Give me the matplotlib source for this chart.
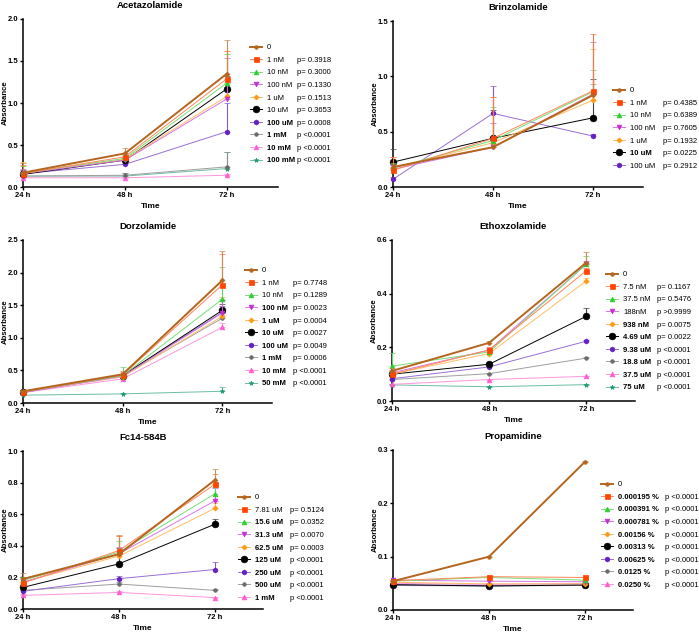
import numpy as np
import matplotlib.pyplot as plt
from matplotlib.colors import to_rgb

plt.rcParams['font.family'] = ['Liberation Sans', 'DejaVu Sans']

hours = [24, 48, 72]
hour_labels = ["24 h", "48 h", "72 h"]

# ---- Acetazolamide
aceta_labels = ["0", "1 nM", "10 nM", "100 nM", "1 uM", "10 uM", "100 uM", "1 mM", "10 mM", "100 mM"]
aceta_p = ["", "p= 0.3918", "p= 0.3000", "p= 0.1330", "p= 0.1513", "p= 0.3653", "p= 0.0008",
           "p <0.0001", "p <0.0001", "p <0.0001"]
aceta_vals = [[0.17, 0.40, 1.35], [0.16, 0.36, 1.29], [0.17, 0.34, 1.24], [0.16, 0.32, 1.05],
              [0.17, 0.33, 1.08], [0.15, 0.32, 1.17], [0.16, 0.27, 0.66], [0.13, 0.14, 0.24],
              [0.11, 0.11, 0.14], [0.13, 0.13, 0.22]]
aceta_err = [[0.12, 0.07, 0.40], [0.10, 0.05, 0.33], [0.08, 0.04, 0.34], [0.05, 0.03, 0.48],
             [0.13, 0.04, 0.54], [0.05, 0.03, 0.15], [0.03, 0.02, 0.34], [0.02, 0.03, 0.18],
             [0.01, 0.01, 0.02], [0.02, 0.04, 0.20]]

# ---- Brinzolamide
brinz_labels = ["0", "1 nM", "10 nM", "100 nM", "1 uM", "10 uM", "100 uM"]
brinz_p = ["", "p= 0.4385", "p= 0.6389", "p= 0.7605", "p= 0.1932", "p= 0.0225", "p= 0.2912"]
brinz_vals = [[0.18, 0.36, 0.83], [0.15, 0.44, 0.87], [0.17, 0.42, 0.86], [0.16, 0.36, 0.84],
              [0.17, 0.40, 0.785], [0.225, 0.44, 0.625], [0.07, 0.665, 0.46]]
brinz_err = [[0.03, 0.03, 0.10], [0.12, 0.37, 0.51], [0.05, 0.30, 0.20], [0.04, 0.22, 0.47],
             [0.10, 0.41, 0.46], [0.12, 0.26, 0.35], [0.02, 0.25, 0.02]]

# ---- Dorzolamide
dorzo_labels = ["0", "1 nM", "10 nM", "100 nM", "1 uM", "10 uM", "100 uM", "1 mM", "10 mM", "50 mM"]
dorzo_p = ["", "p= 0.7748", "p= 0.1289", "p= 0.0023", "p= 0.0004", "p= 0.0027", "p= 0.0049",
           "p= 0.0006", "p <0.0001", "p <0.0001"]
dorzo_vals = [[0.18, 0.44, 1.88], [0.17, 0.43, 1.81], [0.17, 0.42, 1.59], [0.16, 0.41, 1.38],
              [0.17, 0.40, 1.33], [0.17, 0.42, 1.42], [0.17, 0.42, 1.39], [0.16, 0.42, 1.30],
              [0.16, 0.37, 1.16], [0.12, 0.14, 0.18]]
dorzo_err = [[0.02, 0.05, 0.45], [0.02, 0.04, 0.47], [0.02, 0.13, 0.50], [0.02, 0.03, 0.20],
             [0.02, 0.03, 0.30], [0.02, 0.03, 0.10], [0.02, 0.03, 0.10], [0.02, 0.03, 0.08],
             [0.01, 0.02, 0.06], [0.01, 0.01, 0.07]]

# ---- Ethoxzolamide
ethox_labels = ["0", "7.5 nM", "37.5 nM", "188nM", "938 nM", "4.69 uM", "9.38 uM", "18.8 uM", "37.5 uM", "75 uM"]
ethox_p = ["", "p= 0.1167", "p= 0.5476", "p >0.9999", "p= 0.0075", "p= 0.0022", "p <0.0001",
           "p <0.0001", "p <0.0001", "p <0.0001"]
ethox_vals = [[0.112, 0.217, 0.516], [0.100, 0.190, 0.486], [0.130, 0.183, 0.510], [0.105, 0.190, 0.510],
              [0.100, 0.177, 0.448], [0.100, 0.137, 0.316], [0.083, 0.127, 0.223], [0.080, 0.102, 0.160],
              [0.062, 0.080, 0.092], [0.060, 0.053, 0.061]]
ethox_err = [[0.01, 0.005, 0.04], [0.01, 0.01, 0.01], [0.05, 0.01, 0.03], [0.01, 0.005, 0.01],
             [0.01, 0.01, 0.012], [0.01, 0.005, 0.03], [0.005, 0.005, 0.005], [0.003, 0.003, 0.003],
             [0.003, 0.003, 0.003], [0.002, 0.002, 0.002]]

# ---- Fc14-584B
fc14_labels = ["0", "7.81 uM", "15.6 uM", "31.3 uM", "62.5 uM", "125 uM", "250 uM", "500 uM", "1 mM"]
fc14_p = ["", "p= 0.5124", "p= 0.0352", "p= 0.0070", "p= 0.0003", "p <0.0001", "p <0.0001",
          "p <0.0001", "p <0.0001"]
fc14_vals = [[0.19, 0.347, 0.817], [0.164, 0.37, 0.79], [0.18, 0.36, 0.73], [0.17, 0.35, 0.685],
             [0.17, 0.335, 0.638], [0.137, 0.286, 0.537], [0.112, 0.192, 0.25], [0.118, 0.158, 0.118],
             [0.086, 0.105, 0.072]]
fc14_err = [[0.04, 0.12, 0.07], [0.03, 0.09, 0.065], [0.02, 0.07, 0.04], [0.02, 0.04, 0.08],
            [0.02, 0.13, 0.03], [0.02, 0.10, 0.035], [0.01, 0.02, 0.05], [0.01, 0.01, 0.01],
            [0.01, 0.01, 0.005]]

# ---- Propamidine
propa_labels = ["0", "0.000195 %", "0.000391 %", "0.000781 %", "0.00156 %", "0.00313 %",
                "0.00625 %", "0.0125 %", "0.0250 %"]
propa_p = ["", "p <0.0001", "p <0.0001", "p <0.0001", "p <0.0001", "p <0.0001", "p <0.0001",
           "p <0.0001", "p <0.0001"]
propa_vals = [[0.054, 0.100, 0.278], [0.055, 0.0625, 0.061], [0.054, 0.061, 0.056], [0.056, 0.054, 0.053],
              [0.052, 0.049, 0.049], [0.0475, 0.045, 0.047], [0.047, 0.046, 0.047], [0.046, 0.045, 0.046],
              [0.050, 0.048, 0.050]]
propa_err = [[0.001, 0.001, 0.001]] * 9

# colour, marker, marker size for the series order used in every panel
styles = [('#b5651d', 'o', 2.6), ('#ff4500', 's', 3.6), ('#2ecc2e', '^', 3.4), ('#c22ed2', 'v', 3.4),
          ('#ff9a10', 'D', 2.6), ('#000000', 'o', 4.8), ('#6420c0', 'h', 3.6), ('#6a6a6a', 'o', 2.6),
          ('#ff5ccf', '^', 3.4), ('#1f9a70', '*', 3.4)]


def lighten(c, f=0.35):
    r, g, b = to_rgb(c)
    return (r + (1 - r) * f, g + (1 - g) * f, b + (1 - b) * f)


def is_bold(p):
    if not p:
        return False
    return float(p.replace('p', '').replace('=', '').replace('<', '').replace('>', '')) < 0.05


W, H = 699, 633
fig = plt.figure(figsize=(W / 100, H / 100), dpi=100)

# name, labels, p, vals, err, ymax, ystep, axes box px (left, right, top, bottom),
# legend label text start px (x, y of top row), p-value x
panels = [
    ("Acetazolamide", aceta_labels, aceta_p, aceta_vals, aceta_err, 2.0, 0.5, (23, 278, 19, 187), (267, 49), 297),
    ("Brinzolamide", brinz_labels, brinz_p, brinz_vals, brinz_err, 1.5, 0.5, (393, 643, 21, 187), (630, 92), 663),
    ("Dorzolamide", dorzo_labels, dorzo_p, dorzo_vals, dorzo_err, 2.5, 0.5, (23, 272, 240, 403), (262, 272), 293),
    ("Ethoxzolamide", ethox_labels, ethox_p, ethox_vals, ethox_err, 0.6, 0.2, (392, 635, 240, 401), (623, 276), 657),
    ("Fc14-584B", fc14_labels, fc14_p, fc14_vals, fc14_err, 1.0, 0.2, (23, 263, 451, 609), (255, 499), 290),
    ("Propamidine", propa_labels, propa_p, propa_vals, propa_err, 0.3, 0.1, (393, 633, 450, 610), (618, 486), 665),
]

for name, labels, pvals, vals, errs, ymax, ystep, box, legpos, px in panels:
    l, r, t, b = box
    ax = fig.add_axes([l / W, 1 - b / H, (r - l) / W, (b - t) / H])
    handles = []
    for i, (lab, v, e) in enumerate(zip(labels, vals, errs)):
        col, mk, ms = styles[i]
        lw = 1.4 if i == 0 else 0.7
        lcol = col if i in (0, 5) else lighten(col)
        line, caps, bars = ax.errorbar(hours, v, yerr=[np.zeros(3), e], color=lcol, lw=lw,
                                       marker=mk, ms=ms, mfc=col, mec=col, mew=0.5,
                                       elinewidth=0.8, capsize=2, capthick=0.8,
                                       ecolor=lighten(col, 0.25), clip_on=False,
                                       zorder=10 - i * 0.1)
        line.set_label(lab)
        handles.append(line)
    ax.set_xlim(24, 84)
    ax.set_ylim(0, ymax)
    ax.set_yticks(np.arange(0, ymax + 1e-9, ystep))
    ax.set_yticklabels(["%.1f" % y for y in np.arange(0, ymax + 1e-9, ystep)])
    ax.set_xticks(hours)
    ax.set_xticklabels(hour_labels)
    for s in ['top', 'right']:
        ax.spines[s].set_visible(False)
    for s in ['left', 'bottom']:
        ax.spines[s].set_linewidth(1.1)
    ax.tick_params(labelsize=5.5, width=1.0, length=2.5, pad=0.8)
    for tl in ax.get_xticklabels() + ax.get_yticklabels():
        tl.set_fontweight('bold')
    ax.set_title(name, fontsize=6.8, fontweight='bold', pad=8)
    ax.set_xlabel("Time", fontsize=6, fontweight='bold', labelpad=3)
    ax.set_ylabel("Absorbance", fontsize=5.6, fontweight='bold')
    # right edge of the rotated label ~14 px left of the axis line
    ax.yaxis.set_label_coords((8.8 - l) / (r - l) if l < 100 else (-14.0) / (r - l), 0.5)

    # handle (1.6 em) + text pad (0.6 em) in pixels
    offset = (1.6 + 0.6) * 5.5 * 100 / 72
    leg = fig.legend(handles=handles, loc='upper left',
                     bbox_to_anchor=((legpos[0] - offset) / W, 1 - (legpos[1] - 5) / H),
                     frameon=False, fontsize=5.5, handlelength=1.6, handletextpad=0.6,
                     labelspacing=0.68, borderpad=0, borderaxespad=0)
    for txt, p in zip(leg.get_texts(), pvals):
        if is_bold(p):
            txt.set_fontweight('bold')
    fig.canvas.draw()
    for txt, p in zip(leg.get_texts(), pvals):
        if p:
            bb = txt.get_window_extent()
            yc = (bb.y0 + bb.y1) / 2
            fig.text(px / W, yc / H, p, fontsize=5.5, va='center', ha='left')

fig.savefig("out.png", dpi=100)
